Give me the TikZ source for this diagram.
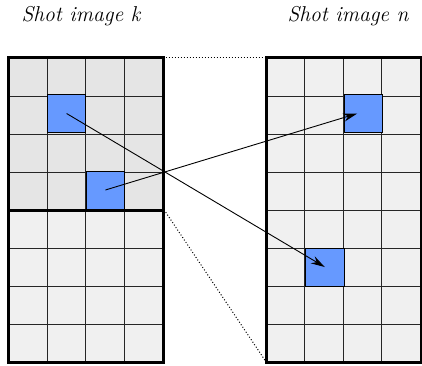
\documentclass[tikz,border=0pt]{standalone}
\usetikzlibrary{arrows.meta,positioning,calc}

\definecolor{cellblue}{RGB}{102,153,255}

\begin{document}
\begin{tikzpicture}
[x=1pt, y=-1pt,
% STYLES
% The title style is used to write the name of each shot image
title/.style={inner sep=0pt, font=\itshape\fontsize{21.5}{25}\selectfont},
% The block style is used to draw the background of a group of 4x4 cells
block/.style={rectangle, inner sep=0pt, minimum width=155pt, minimum height=152pt},
% The cell style is used to draw the matched (blue) cells
cell/.style={rectangle, draw, fill=cellblue, line width=1pt, inner sep=0pt, minimum width=38.5pt, minimum height=38pt},
gridline/.style={black!85, line width=1pt},
frame/.style={line width=3.2pt},
link/.style={dotted, line width=1pt},
match/.style={-{Stealth[length=14pt, width=8pt]}, line width=0.9pt}]

\useasboundingbox (0,0) rectangle (422,365);

% Draw titles
\node [title] (titlek) at (81,16) {Shot image k};
\node [title] (titlen) at (348,16) {Shot image n};

% Draw backgrounds
\node [block, fill=black!10] (kupper) at (86,134) {};
\node [block, fill=black!6, below=0pt of kupper] (klower) {};
\node [block, fill=black!6, minimum height=304pt] (nimage) at (344,210) {};

% Draw the grid lines
\foreach \i in {1,2,3} {
  \draw [gridline] ($(kupper.north west)+(\i*38.75,0)$) -- ($(klower.south west)+(\i*38.75,0)$);
  \draw [gridline] ($(nimage.north west)+(\i*38.5,0)$) -- ($(nimage.south west)+(\i*38.5,0)$);
}
\foreach \j in {1,2,3,5,6,7} {
  \draw [gridline] (8.5,58+\j*38) -- (163.5,58+\j*38);
}
\foreach \j in {1,...,7} {
  \draw [gridline] (267,58+\j*38) -- (421,58+\j*38);
}

% Draw matched cells
\node [cell] (ka) at (66.6,113.5) {};
\node [cell] (kb) at (105.4,190) {};
\node [cell] (na) at (363.25,113.5) {};
\node [cell] (nb) at (324.75,267) {};

% Draw frames
\draw [frame] (kupper.north west) rectangle (kupper.south east);
\draw [frame] (klower.north west) rectangle (klower.south east);
\draw [frame] (nimage.north west) rectangle (nimage.south east);

% Draw the links between the shot images
\path [link]
    ([xshift=2pt]kupper.north east) edge (nimage.north west)
    ([xshift=2pt, yshift=-2pt]kupper.south east) edge (nimage.south west);

% Draw the matches
\draw [match] (ka.center) -- (nb.center);
\draw [match] (kb.center) -- ([xshift=-6pt]na.center);

\end{tikzpicture}
\end{document}
